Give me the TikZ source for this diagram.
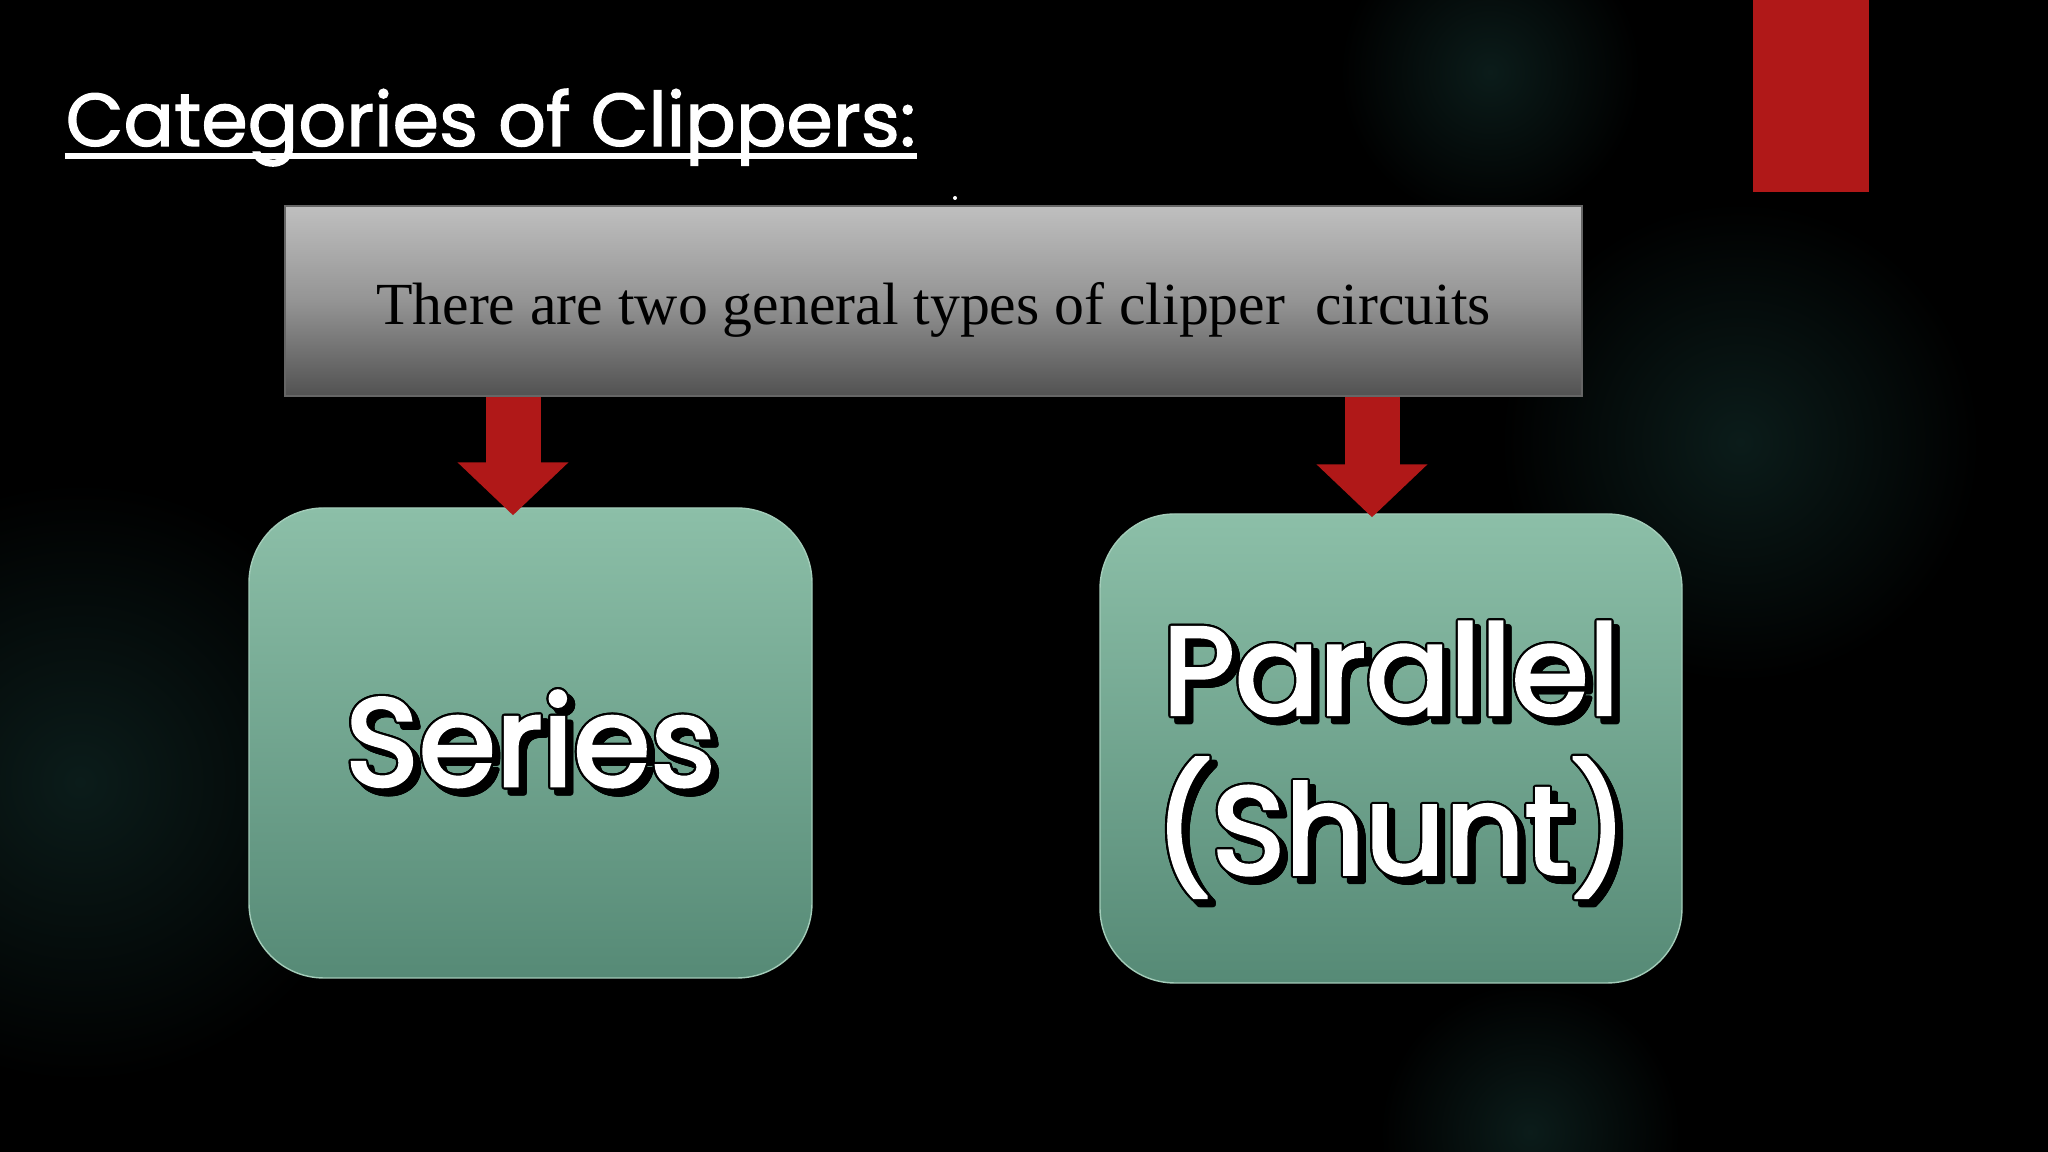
\documentclass[tikz,border=0pt]{standalone}
\usepackage{fontspec}
\setmainfont{Liberation Serif}
\newfontfamily\gothic{Poppins}[FakeBold=1.6]
\newfontfamily\gothicbf{Poppins}[FakeBold=2.6]
\usepackage[copies]{contour}
\usetikzlibrary{arrows.meta}
\definecolor{slidered}{RGB}{176,24,24}
\definecolor{glow}{RGB}{11,28,26}
\definecolor{boxtop}{RGB}{140,191,168}
\definecolor{boxbot}{RGB}{86,138,118}
\contourlength{0.022cm}
\def\popout#1{\makebox[0pt][l]{\hspace{0.06cm}\raisebox{-0.06cm}{\color{black}\contour{black}{#1}}}\contour{black}{#1}}

\begin{document}
\begin{tikzpicture}
			%%%%% START %%%%%
			\fill[black] (0, 0) rectangle (20.48, 11.52);
			\useasboundingbox (0, 0) rectangle (20.48, 11.52);
			
			% faint glows in the background
			\shade[inner color=glow, outer color=black] (14.9, 10.8) circle (1.5);
			\shade[inner color=glow, outer color=black] (17.4, 7.1) circle (2.4);
			\shade[inner color=glow, outer color=black] (0.8, 3.7) circle (3.0);
			\shade[inner color=glow, outer color=black] (15.3, 0.2) circle (1.5);
			
			\fill[slidered] (17.53, 11.52) rectangle (18.69, 9.60);
			\fill[white] (9.55, 9.54) circle (0.02);
			
			\node[anchor=base west, inner sep=0, text=white, font=\gothic\fontsize{21.3}{25}\selectfont] (title) at (0.65, 10.06) {Categories of Clippers:};
			\draw[white, line width=0.06cm] ([yshift=-0.1cm]title.base west) -- ([yshift=-0.1cm]title.base east);
			
			\node[draw=black!60, top color=black!25, bottom color=black!68, middle color=black!42,
			      minimum width=12.97cm, minimum height=1.90cm, inner sep=0,
			      font=\fontsize{17}{20}\selectfont] (types) at (9.335, 8.51)
			      {\raisebox{-0.09cm}[\height][\depth]{There are two general types of clipper\ \ circuits}};
			
			\node[draw=boxtop!80!white, top color=boxtop, bottom color=boxbot, rounded corners=0.75cm,
			      minimum width=5.63cm, minimum height=4.70cm, text=white,
			      font=\gothicbf\fontsize{35.5}{42}\selectfont] (series) at (5.305, 4.09) {\popout{Series}};
			\node[draw=boxtop!80!white, top color=boxtop, bottom color=boxbot, rounded corners=0.75cm,
			      minimum width=5.82cm, minimum height=4.69cm, text=white,
			      font=\gothicbf\fontsize{35.5}{41}\selectfont] (parallel) at (13.91, 4.035)
			      {\raisebox{-0.17cm}[\height][\depth]{\begin{tabular}{@{}c@{}}\popout{Parallel}\\\popout{(Shunt)}\end{tabular}}};
			
			\draw[slidered, line width=0.55cm, -{Triangle[width=1.08cm, length=0.53cm]}] (types.south -| 5.13, 0) -- ([yshift=-0.08cm]series.north -| 5.13, 0);
			\draw[slidered, line width=0.55cm, -{Triangle[width=1.08cm, length=0.53cm]}] (types.south -| 13.72, 0) -- ([yshift=-0.04cm]parallel.north -| 13.72, 0);
			%%%%% END %%%%%
		\end{tikzpicture}
\end{document}
